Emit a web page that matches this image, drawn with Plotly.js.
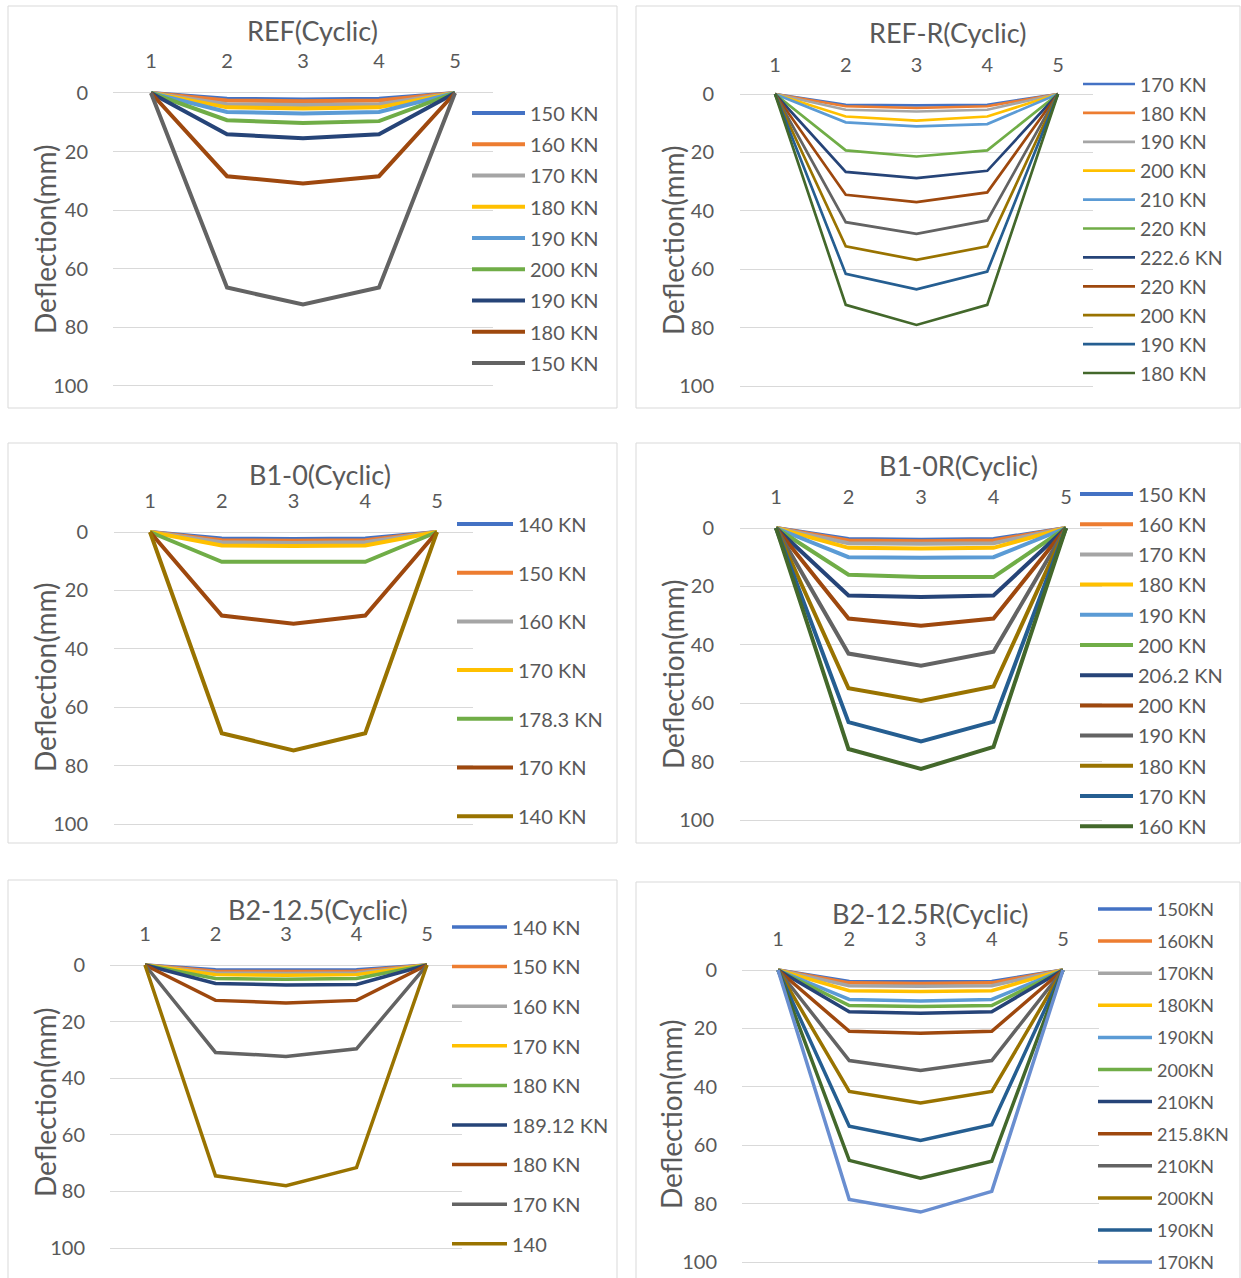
<!DOCTYPE html>
<html><head><meta charset="utf-8">
<script src="https://cdn.plot.ly/plotly-3.0.1.min.js"></script>
<style>html,body{margin:0;padding:0;background:#fff}#chart{width:1241px;height:1278px}</style>
</head><body><div id="chart"></div>
<script>
// ---------------- DATA ----------------
const xCategories = [1, 2, 3, 4, 5];
const xTickLabels = ['1', '2', '3', '4', '5'];
const yTickVals = [0, 20, 40, 60, 80, 100];
const yTickLabels = ['0', '20', '40', '60', '80', '100'];
const yAxisTitle = 'Deflection(mm)';
const panelTitles = ['REF(Cyclic)', 'REF-R(Cyclic)', 'B1-0(Cyclic)', 'B1-0R(Cyclic)', 'B2-12.5(Cyclic)', 'B2-12.5R(Cyclic)'];

const refLabels = ['150 KN', '160 KN', '170 KN', '180 KN', '190 KN', '200 KN', '190 KN', '180 KN', '150 KN'];
const refValues = [
  [0, 2.0, 2.2, 2.0, 0],
  [0, 2.6, 2.8, 2.6, 0],
  [0, 3.8, 4.1, 3.8, 0],
  [0, 4.9, 5.3, 4.9, 0],
  [0, 6.5, 7.0, 6.5, 0],
  [0, 9.3, 10.2, 9.6, 0],
  [0, 14.1, 15.4, 14.1, 0],
  [0, 28.4, 30.9, 28.4, 0],
  [0, 66.4, 72.2, 66.4, 0]
];
const refInLegend = [1, 1, 1, 1, 1, 1, 1, 1, 1];

const refRLabels = ['170 KN', '180 KN', '190 KN', '200 KN', '210 KN', '220 KN', '222.6 KN', '220 KN', '190 KN', '200 KN', '190 KN', '180 KN'];
const refRValues = [
  [0, 3.7, 3.9, 3.7, 0],
  [0, 4.2, 4.8, 4.2, 0],
  [0, 5.4, 6.0, 5.4, 0],
  [0, 7.7, 9.1, 7.7, 0],
  [0, 9.7, 11.1, 10.3, 0],
  [0, 19.3, 21.4, 19.3, 0],
  [0, 26.7, 28.8, 26.3, 0],
  [0, 34.5, 37.0, 33.7, 0],
  [0, 43.9, 47.9, 43.3, 0],
  [0, 52.2, 56.8, 52.2, 0],
  [0, 61.6, 66.9, 60.8, 0],
  [0, 72.2, 79.1, 72.2, 0]
];
const refRInLegend = [1, 1, 1, 1, 1, 1, 1, 1, 0, 1, 1, 1];

const b10Labels = ['140 KN', '150 KN', '160 KN', '170 KN', '178.3 KN', '170 KN', '140 KN'];
const b10Values = [
  [0, 2.2, 2.4, 2.2, 0],
  [0, 2.8, 3.0, 2.8, 0],
  [0, 3.5, 3.8, 3.5, 0],
  [0, 4.6, 4.8, 4.6, 0],
  [0, 10.2, 10.2, 10.2, 0],
  [0, 28.6, 31.4, 28.6, 0],
  [0, 68.9, 74.8, 68.9, 0]
];
const b10InLegend = [1, 1, 1, 1, 1, 1, 1];

const b10RLabels = ['150 KN', '160 KN', '170 KN', '180 KN', '190 KN', '200 KN', '206.2 KN', '200 KN', '190 KN', '180 KN', '170 KN', '160 KN'];
const b10RValues = [
  [0, 3.8, 4.0, 3.8, 0],
  [0, 4.3, 4.5, 4.3, 0],
  [0, 5.2, 5.4, 5.2, 0],
  [0, 6.8, 7.0, 6.8, 0],
  [0, 10.0, 10.2, 10.0, 0],
  [0, 16.0, 16.8, 16.8, 0],
  [0, 23.1, 23.6, 23.1, 0],
  [0, 31.0, 33.5, 31.0, 0],
  [0, 43.0, 47.2, 42.4, 0],
  [0, 54.9, 59.2, 54.3, 0],
  [0, 66.5, 73.1, 66.3, 0],
  [0, 75.7, 82.5, 75.0, 0]
];
const b10RInLegend = [1, 1, 1, 1, 1, 1, 1, 1, 1, 1, 1, 1];

const b2Labels = ['140 KN', '150 KN', '160 KN', '170 KN', '180 KN', '189.12 KN', '180 KN', '170 KN', '140'];
const b2Values = [
  [0, 1.7, 1.8, 1.7, 0],
  [0, 2.2, 2.3, 2.2, 0],
  [0, 2.8, 3.0, 2.8, 0],
  [0, 3.4, 3.6, 3.4, 0],
  [0, 4.8, 5.0, 4.8, 0],
  [0, 6.5, 7.1, 6.9, 0],
  [0, 12.5, 13.4, 12.5, 0],
  [0, 30.9, 32.3, 29.6, 0],
  [0, 74.5, 78.0, 71.6, 0]
];
const b2InLegend = [1, 1, 1, 1, 1, 1, 1, 1, 1];

const b2RLabels = ['150KN', '160KN', '170KN', '180KN', '190KN', '200KN', '210KN', '215.8KN', '210KN', '200KN', '190KN', '180KN', '170KN'];
const b2RValues = [
  [0, 3.9, 4.0, 3.9, 0],
  [0, 4.4, 4.6, 4.4, 0],
  [0, 5.4, 5.6, 5.4, 0],
  [0, 7.1, 7.4, 7.1, 0],
  [0, 10.1, 10.6, 10.1, 0],
  [0, 12.2, 12.5, 12.2, 0],
  [0, 14.3, 14.8, 14.3, 0],
  [0, 21.0, 21.7, 21.0, 0],
  [0, 31.0, 34.4, 31.0, 0],
  [0, 41.6, 45.5, 41.6, 0],
  [0, 53.5, 58.4, 53.0, 0],
  [0, 65.2, 71.3, 65.5, 0],
  [0, 78.6, 82.9, 75.8, 0]
];
const b2RInLegend = [1, 1, 1, 1, 1, 1, 1, 1, 1, 1, 1, 0, 1];

// Excel office palette
const palette = ['#4472C4', '#ED7D31', '#A5A5A5', '#FFC000', '#5B9BD5', '#70AD47', '#264478', '#9E480E', '#636363', '#997300', '#255E91', '#43682B', '#698ED0'];
const refColors = [0, 1, 2, 3, 4, 5, 6, 7, 8];
const refRColors = [0, 1, 2, 3, 4, 5, 6, 7, 8, 9, 10, 11];
const b10Colors = [0, 1, 2, 3, 5, 7, 9];
const b10RColors = [0, 1, 2, 3, 4, 5, 6, 7, 8, 9, 10, 11];
const b2Colors = [0, 1, 2, 3, 5, 6, 7, 8, 9];
const b2RColors = [0, 1, 2, 3, 4, 5, 6, 7, 8, 9, 10, 11, 12];

// ---------------- LAYOUT GEOMETRY (pixels) ----------------
const W = 1241, H = 1278;
const FONT = 'Lato, "Open Sans", sans-serif';
const TXT = '#595959';

const panels = [
  {names: refLabels, values: refValues, colors: refColors, inLeg: refInLegend, lw: 4,
   box: [8, 6, 617, 408], x1: 151, x5: 455, y0: 93, y100: 386, title: [312, 30], tickY: 60, yTitle: [45, 240], tickRight: 91,
   lx: 472, ly: 113, step: 31.25, lfs: 20, iw: 53},
  {names: refRLabels, values: refRValues, colors: refRColors, inLeg: refRInLegend, lw: 2.7,
   box: [636, 6, 1240, 408], x1: 775, x5: 1058, y0: 94, y100: 386, title: [948, 32], tickY: 64, yTitle: [673, 240], tickRight: 717,
   lx: 1083, ly: 84, step: 28.9, lfs: 19.5, iw: 52},
  {names: b10Labels, values: b10Values, colors: b10Colors, inLeg: b10InLegend, lw: 4,
   box: [8, 443, 617, 843], x1: 150, x5: 437, y0: 532, y100: 824, title: [320, 474], tickY: 500, yTitle: [45, 678], tickRight: 91,
   lx: 457, ly: 524, step: 48.7, lfs: 20, iw: 56},
  {names: b10RLabels, values: b10RValues, colors: b10RColors, inLeg: b10RInLegend, lw: 4,
   box: [636, 443, 1240, 843], x1: 776, x5: 1066, y0: 528, y100: 820, title: [958, 466], tickY: 496, yTitle: [673, 674], tickRight: 717,
   lx: 1080, ly: 494, step: 30.2, lfs: 20, iw: 53},
  {names: b2Labels, values: b2Values, colors: b2Colors, inLeg: b2InLegend, lw: 3.5,
   box: [8, 880, 617, 1290], x1: 145, x5: 427, y0: 965, y100: 1248, title: [318, 909], tickY: 933, yTitle: [45, 1103], tickRight: 88,
   lx: 452, ly: 927, step: 39.6, lfs: 20, iw: 55},
  {names: b2RLabels, values: b2RValues, colors: b2RColors, inLeg: b2RInLegend, lw: 3.5,
   box: [636, 882, 1240, 1290], x1: 778, x5: 1063, y0: 970, y100: 1262, title: [930, 913], tickY: 938, yTitle: [671, 1115], tickRight: 720,
   lx: 1098, ly: 909, step: 32.1, lfs: 18, iw: 54}
];

const TICK_FS = 20, TITLE_FS = 27, YT_FS = 28;
const LEGEND_DY = 5;

const layout = {
  width: W, height: H, margin: {l: 0, r: 0, t: 0, b: 0, autoexpand: false},
  paper_bgcolor: '#ffffff', plot_bgcolor: 'rgba(0,0,0,0)',
  font: {family: FONT, color: TXT},
  showlegend: true, shapes: [], annotations: []
};
const traces = [];

panels.forEach((g, i) => {
  const n = i + 1, sfx = n === 1 ? '' : String(n);
  const s = (g.x5 - g.x1) / 4;
  const xl = g.x1 - s / 2, xr = g.x5 + s / 2;
  const k = (g.y100 - g.y0) / 100;
  const e = 2.5;
  const yt = g.y0 - e * k, yb = g.y100 + e * k;

  layout['xaxis' + sfx] = {
    domain: [xl / W, xr / W], range: [0.5, 5.5], side: 'top', anchor: 'y' + sfx,
    tickmode: 'array', tickvals: xCategories, ticktext: xTickLabels,
    showgrid: false, zeroline: false, showline: false,
    ticks: 'outside', ticklen: Math.max(0, yt - g.tickY - (0.62 * TICK_FS + 4.6)), tickcolor: 'rgba(0,0,0,0)',
    tickfont: {size: TICK_FS, color: TXT, family: FONT}, fixedrange: true
  };
  layout['yaxis' + sfx] = {
    domain: [1 - yb / H, 1 - yt / H], range: [100 + e, -e], anchor: 'x' + sfx,
    tickmode: 'array', tickvals: yTickVals, ticktext: yTickLabels,
    showgrid: true, gridcolor: '#d9d9d9', gridwidth: 1, zeroline: false, showline: false,
    ticks: 'outside', ticklen: Math.max(0, xl - g.tickRight - 2), tickcolor: 'rgba(0,0,0,0)',
    tickfont: {size: TICK_FS, color: TXT, family: FONT}, fixedrange: true
  };

  const h = g.lfs * 1.3 + 3;
  layout['legend' + sfx] = {
    x: (g.lx - 5) / W, y: 1 - (g.ly - LEGEND_DY - h / 2) / H, xanchor: 'left', yanchor: 'top',
    bgcolor: 'rgba(0,0,0,0)', borderwidth: 0, itemwidth: g.iw,
    traceorder: 'grouped', tracegroupgap: Math.max(0, g.step - h),
    font: {size: g.lfs, color: TXT, family: FONT}
  };

  layout.shapes.push({type: 'rect', xref: 'paper', yref: 'paper',
    x0: g.box[0] / W, x1: g.box[2] / W, y0: 1 - g.box[3] / H, y1: 1 - g.box[1] / H,
    line: {color: '#d9d9d9', width: 1}, fillcolor: 'rgba(0,0,0,0)', layer: 'below'});

  layout.annotations.push({text: panelTitles[i], xref: 'paper', yref: 'paper',
    x: g.title[0] / W, y: 1 - g.title[1] / H, xanchor: 'center', yanchor: 'middle', showarrow: false,
    font: {size: TITLE_FS, color: TXT, family: FONT}});
  layout.annotations.push({text: yAxisTitle, xref: 'paper', yref: 'paper', textangle: -90,
    x: g.yTitle[0] / W, y: 1 - g.yTitle[1] / H, xanchor: 'center', yanchor: 'middle', showarrow: false,
    font: {size: YT_FS, color: TXT, family: FONT}});

  g.values.forEach((vals, j) => {
    traces.push({
      type: 'scatter', mode: 'lines', x: xCategories, y: vals, name: g.names[j],
      showlegend: g.inLeg[j] === 1,
      xaxis: 'x' + sfx, yaxis: 'y' + sfx, legend: 'legend' + sfx, legendgroup: 'p' + n + '_' + j,
      line: {color: palette[g.colors[j]], width: g.lw}, hoverinfo: 'skip'
    });
  });
});

Plotly.newPlot('chart', traces, layout, {displayModeBar: false, staticPlot: true});
</script></body></html>
